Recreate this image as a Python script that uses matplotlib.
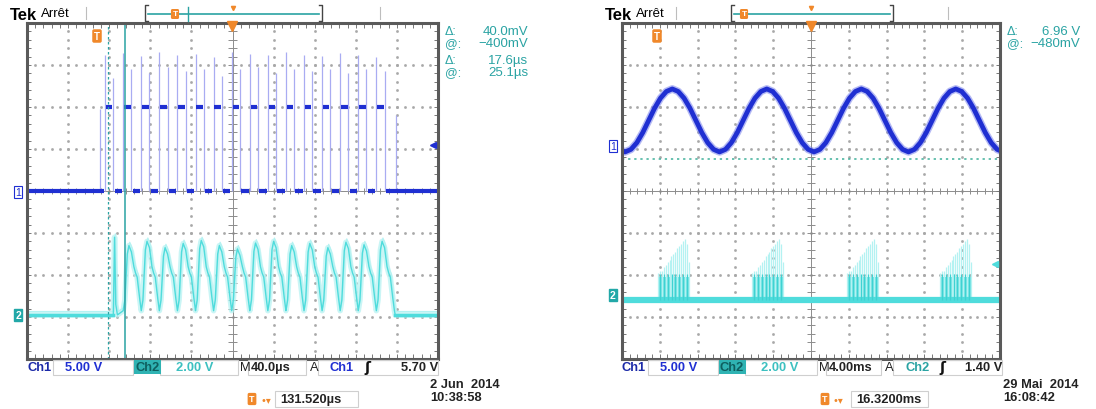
import matplotlib.pyplot as plt
from matplotlib.patches import Rectangle
import numpy as np

plt.rcParams['font.family'] = ['Liberation Sans', 'DejaVu Sans']

W, H = 1096, 410

CH1 = '#1f2fd2'
CH1_LIGHT = '#a9acf2'
CH2 = '#4fdcdc'
CH2_LIGHT = '#b4f2f2'
TEAL = '#2aa3a3'
ORANGE = '#f0882a'
BORDER = '#5a5a5a'
GRID = '#a8a8a8'

# left capture: 40 us/div, everything in screen divisions
left_rise = [1.90, 2.34, 2.78, 3.22, 3.66, 4.10, 4.54, 4.98,
             5.42, 5.86, 6.30, 6.74, 7.18, 7.62, 8.06, 8.50]
left_high_len = 0.20
left_ch1_low = 0.0
left_ch1_high = 2.0
left_rise_spike = [3.25, 3.28, 3.22, 3.30, 3.25, 3.27, 3.20, 3.30,
                   3.26, 3.24, 3.30, 3.25, 3.22, 3.28, 3.25, 3.20]
left_fall_spike = [2.70, 2.90, 2.80, 2.95, 2.85, 2.90, 2.75, 2.90,
                   2.95, 2.80, 2.90, 2.85, 2.90, 2.80, 2.90, 2.85]
left_stray_t = [1.77, 8.98]
left_stray_top = [1.95, 1.80]
left_ch2_base = -2.95
left_ch2_lead_t = [0.0, 2.10, 2.13, 2.16, 2.20, 2.34]
left_ch2_lead_v = [-2.95, -2.95, -1.10, -2.70, -2.95, -2.85]
left_ch2_cycle_t = [0.0, 0.04, 0.10, 0.14, 0.20, 0.26, 0.30, 0.34, 0.40, 0.44]
left_ch2_cycle_v = [-2.85, -2.6, -1.5, -1.3, -1.45, -1.8, -1.95, -2.05, -2.55, -2.85]
left_ch2_peak_shift = [0.0, 0.1, -0.05, 0.05, 0.12, 0.0, -0.08, 0.06,
                       0.1, 0.0, 0.05, -0.05, 0.08, 0.02, 0.1]
left_cursor_dash = 1.97
left_cursor_solid = 2.38

# right capture: 4 ms/div
right_period = 2.5
right_cycle_start = [-2.42, 0.08, 2.58, 5.08, 7.58]
right_ch1_cycle = [0.93, 0.99, 1.15, 1.39, 1.68, 1.97, 2.21, 2.37,
                   2.43, 2.37, 2.21, 1.97, 1.68, 1.39, 1.15, 0.99]
right_ch2_base = -2.6
right_burst_start = [0.95, 3.44, 5.95, 8.41]
right_burst_len = 0.82
right_burst_top = -2.05
right_burst_spikes = [-1.95, -1.9, -1.9, -1.8, -1.75, -1.7, -1.65, -1.55, -1.5,
                      -1.45, -1.35, -1.3, -1.25, -1.2, -1.15, -1.25, -1.7]
right_cursor_level = 0.76


def screen(fig, x0, y0, x1, y1):
    ax = fig.add_axes([x0 / W, 1 - y1 / H, (x1 - x0) / W, (y1 - y0) / H])
    ax.set_xlim(0, 10)
    ax.set_ylim(-4, 4)
    ax.set_xticks([])
    ax.set_yticks([])
    for s in ax.spines.values():
        s.set_color(BORDER)
        s.set_linewidth(2.2)
        s.set_zorder(6)
    xf = np.arange(0.2, 10, 0.2)
    yf = np.arange(-3.8, 4, 0.2)
    for i in range(1, 10):
        if i != 5:
            ax.plot(np.full(len(yf), i), yf, ls='none', marker='s', ms=0.9,
                    color=GRID, zorder=1)
    for j in range(-3, 4):
        if j != 0:
            ax.plot(xf, np.full(len(xf), j), ls='none', marker='s', ms=0.9,
                    color=GRID, zorder=1)
    ax.axvline(5, color='#8c8c8c', lw=0.7, zorder=1)
    ax.axhline(0, color='#8c8c8c', lw=0.7, zorder=1)
    ax.vlines(xf, -0.08, 0.08, color='#8c8c8c', lw=0.7, zorder=1)
    ax.hlines(yf, 4.9, 5.1, color='#8c8c8c', lw=0.7, zorder=1)
    ax.vlines(xf, 3.88, 4, color='#777', lw=0.7, zorder=1)
    ax.vlines(xf, -4, -3.88, color='#777', lw=0.7, zorder=1)
    ax.hlines(yf, 0, 0.1, color='#777', lw=0.7, zorder=1)
    ax.hlines(yf, 9.9, 10, color='#777', lw=0.7, zorder=1)
    return ax


fig = plt.figure(figsize=(W / 100, H / 100), dpi=100)

# ---------------- left screen ----------------
axl = screen(fig, 27, 24, 438, 360)

# ch2 sawtooth burst
t2 = list(left_ch2_lead_t)
v2 = list(left_ch2_lead_v)
for r, sh in zip(left_rise[1:], left_ch2_peak_shift):
    t2 += [r + dt for dt in left_ch2_cycle_t]
    v2 += [v + sh if -1.6 < v < -1.2 else v for v in left_ch2_cycle_v]
t2 += [left_rise[-1] + left_ch2_cycle_t[-1] + 0.02, 10]
v2 += [left_ch2_base, left_ch2_base]
t2 = np.array(t2)
v2 = np.array(v2)
axl.plot(t2, v2, color=CH2_LIGHT, lw=4, alpha=0.7, zorder=2)
axl.plot(t2 + 0.02, v2 + 0.08, color=CH2_LIGHT, lw=0.9, zorder=2)
axl.plot(t2, v2, color=CH2, lw=1.0, zorder=3)
axl.plot([0, 2.10], [left_ch2_base] * 2, color=CH2, lw=2.5, zorder=3)
axl.plot([t2[-2], 10], [left_ch2_base] * 2, color=CH2, lw=2.5, zorder=3)

# ch1 pulse train
falls = [r + left_high_len for r in left_rise]
axl.vlines(left_rise, left_ch1_low, left_rise_spike, color=CH1_LIGHT, lw=0.9, zorder=3)
axl.vlines(falls, left_ch1_low, left_fall_spike, color=CH1_LIGHT, lw=0.9, zorder=3)
axl.vlines(left_stray_t, left_ch1_low, left_stray_top, color=CH1_LIGHT, lw=0.9, zorder=3)
axl.hlines([left_ch1_high] * len(left_rise), [r + 0.02 for r in left_rise],
           [f - 0.02 for f in falls], color=CH1, lw=3, zorder=4)
lows_a = [0] + [f + 0.03 for f in falls]
lows_b = [left_rise[0] - 0.02] + [r - 0.03 for r in left_rise[1:]] + [10]
axl.hlines([left_ch1_low] * len(lows_a), lows_a, lows_b, color=CH1, lw=3, zorder=4)

axl.axvline(left_cursor_dash, color=TEAL, ls=(0, (2, 2)), lw=0.9, zorder=5)
axl.axvline(left_cursor_solid, color=TEAL, lw=1.1, zorder=5)

# ---------------- right screen ----------------
axr = screen(fig, 622, 24, 1000, 360)

n = len(right_ch1_cycle)
xs = np.concatenate([s + np.arange(n) * right_period / n for s in right_cycle_start]
                    + [[right_cycle_start[-1] + right_period]])
ys = np.array(right_ch1_cycle * len(right_cycle_start) + [right_ch1_cycle[0]])
axr.plot(xs, ys, color='#6a74ea', lw=5.5, alpha=0.5, zorder=3, solid_joinstyle='round')
axr.plot(xs, ys, color=CH1, lw=3.4, zorder=4, solid_joinstyle='round')

axr.axhline(right_ch2_base, color=CH2, lw=4.5, zorder=3)
for s in right_burst_start:
    axr.fill_between([s, s + right_burst_len], right_ch2_base, right_burst_top,
                     color='#72e4e4', lw=0, zorder=2)
    sx = np.linspace(s, s + right_burst_len, len(right_burst_spikes))
    axr.vlines(sx, [right_ch2_base] * len(sx), right_burst_spikes, color=CH2_LIGHT,
               lw=0.9, zorder=2)
    dx = np.linspace(s + 0.06, s + right_burst_len - 0.06, 8)
    axr.vlines(dx, [right_ch2_base] * len(dx), [right_burst_top + 0.07] * len(dx),
               color='#3ed2d2', lw=0.9, zorder=3)
axr.axhline(right_cursor_level, color='#3fb09a', ls=(0, (1.5, 2.5)), lw=1.1, zorder=3)

# ---------------- overlay in pixel coordinates ----------------
ov = fig.add_axes([0, 0, 1, 1])
ov.set_xlim(0, W)
ov.set_ylim(H, 0)
ov.axis('off')
ov.set_zorder(10)


def ticon(x, y, size=7):
    ov.text(x, y, 'T', color='white', fontsize=size, fontweight='bold', ha='center',
            va='center', bbox=dict(boxstyle='round,pad=0.18', fc=ORANGE, ec='none'))


def box(x0, y0, x1, y1):
    ov.add_patch(Rectangle((x0, y0), x1 - x0, y1 - y0, fill=False, ec='#cfcfcf', lw=0.8))


def chmark(x, y, label, filled, color):
    if filled:
        ov.text(x, y, label, color='white', fontsize=7.5, fontweight='bold', ha='center',
                va='center', bbox=dict(boxstyle='square,pad=0.12', fc=color, ec=color))
    else:
        ov.text(x, y, label, color=color, fontsize=7.5, ha='center', va='center',
                bbox=dict(boxstyle='square,pad=0.12', fc='white', ec=color, lw=0.8))


for off, b0, b1, tx, ticks in [(0, 145, 322, 175, (86, 380)), (595, 731, 893, 744, (676, 948))]:
    ov.text(10 + off, 15, 'Tek', fontsize=12, fontweight='bold', va='center')
    ov.text(41 + off, 14, 'Arrêt', fontsize=9.5, va='center')
    ov.plot([b0 + 3, b0, b0, b0 + 3], [6, 6, 22, 22], color='#444', lw=1)
    ov.plot([b1 - 3, b1, b1, b1 - 3], [6, 6, 22, 22], color='#444', lw=1)
    ov.plot([b0 + 3, b1 - 3], [15, 15], color=TEAL, lw=1.2)
    for tk in ticks:
        ov.plot([tk, tk], [8, 20], color='#bdbdbd', lw=0.8)
    ticon(tx, 15, 6)

ov.plot([188, 188], [8, 22], color=TEAL, lw=1)
ov.plot(233, 9, marker='v', color=ORANGE, ms=3)
ov.plot(811, 9, marker='v', color=ORANGE, ms=3)
ov.plot(232, 27, marker='v', color=ORANGE, ms=7)
ov.plot(811, 27, marker='v', color=ORANGE, ms=7)
ticon(97, 37)
ticon(657, 37)
ov.plot(433, 146, marker='<', color=CH1, ms=4.5)
ov.plot(995, 265, marker='<', color=CH2, ms=4.5)

chmark(18, 193, '1', False, CH1)
chmark(18, 316, '2', True, '#22a8a8')
chmark(613, 147, '1', False, CH1)
chmark(613, 296, '2', True, '#22a8a8')

# cursor readouts
for y, a, b in [(32, 'Δ:', '40.0mV'), (44, '@:', '−400mV'), (61, 'Δ:', '17.6µs'), (73, '@:', '25.1µs')]:
    ov.text(445, y, a, color=TEAL, fontsize=9, va='center')
    ov.text(528, y, b, color=TEAL, fontsize=9.5, va='center', ha='right')
for y, a, b in [(32, 'Δ:', '6.96 V'), (44, '@:', '−480mV')]:
    ov.text(1007, y, a, color=TEAL, fontsize=9, va='center')
    ov.text(1080, y, b, color=TEAL, fontsize=9.5, va='center', ha='right')

# bottom status rows
rows = [
    dict(x=27, ch1v='5.00 V', ch2x=135, ch2v='2.00 V', mx=240, mv='40.0µs', ax_=310,
         src='Ch1', srccol=CH1, lev='5.70 V', right=438, b=(53, 160, 248, 318),
         tx=252, tv='131.520µs', tb=(275, 358), date='2 Jun  2014', time='10:38:58', dx=430),
    dict(x=622, ch1v='5.00 V', ch2x=720, ch2v='2.00 V', mx=819, mv='4.00ms', ax_=885,
         src='Ch2', srccol=TEAL, lev='1.40 V', right=1002, b=(648, 745, 826, 893),
         tx=825, tv='16.3200ms', tb=(851, 928), date='29 Mai  2014', time='16:08:42', dx=1003),
]
fs = 9.3
for r in rows:
    b = r['b']
    box(b[0], 361, r['ch2x'] - 2, 376)
    box(b[1], 361, r['mx'] - 2, 376)
    box(b[2], 361, r['ax_'] - 4, 376)
    box(b[3], 361, r['right'], 376)
    ov.text(r['x'], 368, 'Ch1', color='#1c2aa8', fontsize=fs, fontweight='bold', va='center')
    ov.text(b[0] + 12, 368, r['ch1v'], color=CH1, fontsize=fs, fontweight='bold', va='center')
    ov.text(r['ch2x'], 368, 'Ch2', color='#0e5f5f', fontsize=fs, fontweight='bold', va='center',
            bbox=dict(boxstyle='square,pad=0.1', fc='#2fb3b3', ec='none'))
    ov.text(b[1] + 16, 368, r['ch2v'], color='#3cc0c0', fontsize=fs, fontweight='bold', va='center')
    ov.text(r['mx'], 368, 'M', color='#222', fontsize=fs, va='center')
    ov.text(b[2] + 3, 368, r['mv'], color='#222', fontsize=fs, fontweight='bold', va='center')
    ov.text(r['ax_'], 368, 'A', color='#222', fontsize=fs, va='center')
    ov.text(b[3] + 12, 368, r['src'], color=r['srccol'], fontsize=fs, fontweight='bold', va='center')
    ov.text(b[3] + 46, 368, 'ʃ', color='#111', fontsize=fs + 1, fontweight='bold', va='center',
            family=['DejaVu Sans'])
    ov.text(r['right'], 368, r['lev'], color='#222', fontsize=fs, fontweight='bold', va='center',
            ha='right')
    ticon(r['tx'], 400, 6.5)
    ov.text(r['tx'] + 8, 400, '•▾', color=ORANGE, fontsize=7, va='center', family=['DejaVu Sans'])
    box(r['tb'][0], 392, r['tb'][1], 408)
    ov.text(r['tb'][0] + 5, 400, r['tv'], color='#222', fontsize=fs, fontweight='bold', va='center')
    ov.text(r['dx'], 385, r['date'], color='#222', fontsize=fs, fontweight='bold', va='center')
    ov.text(r['dx'], 398, r['time'], color='#222', fontsize=fs, fontweight='bold', va='center')

fig.savefig('out.png', dpi=100)
